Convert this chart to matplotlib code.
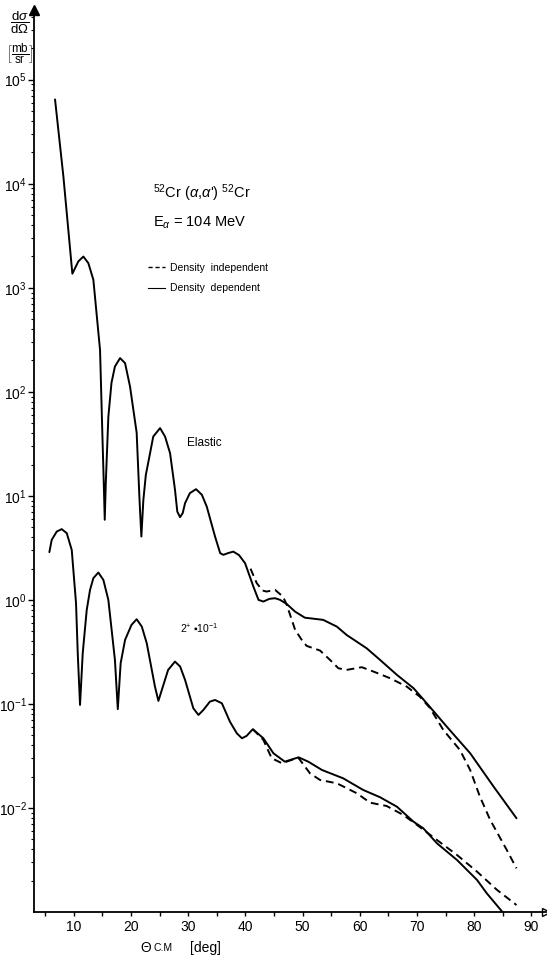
import numpy as np
import matplotlib
matplotlib.use("Agg")
import matplotlib.pyplot as plt
from matplotlib.lines import Line2D
from matplotlib.ticker import MultipleLocator, LogLocator, NullFormatter

plt.rcParams['font.family'] = ['Liberation Sans', 'DejaVu Sans']
plt.rcParams['mathtext.fontset'] = 'custom'
plt.rcParams['mathtext.rm'] = 'Liberation Sans'
plt.rcParams['mathtext.it'] = 'Liberation Sans:italic'

# angles in deg, cross sections as log10(mb/sr)
elastic_dep_x = [6.73, 8.19, 9.76, 10.8, 11.68, 12.55, 13.43, 14.6, 15.0, 15.25, 15.42, 15.6,
                 16.05, 16.6, 17.2, 18.1, 18.97, 19.84, 21.0, 21.5, 21.82, 22.17, 22.6, 23.34,
                 23.9, 25.09, 25.96, 26.84, 27.7, 28.1, 28.58, 29.05, 29.46, 30.3, 31.38, 32.4,
                 33.25, 34.7, 35.6, 36.15, 37.0, 37.9, 38.9, 39.95, 41.4, 42.3, 43.15, 44.2,
                 45.2, 46.07, 47.24, 48.7, 50.4, 53.6, 56.0, 57.7, 61.2, 63.55, 66.5, 69.4,
                 71.7, 75.2, 79.3, 83.4, 87.4]
elastic_dep_log = [4.81, 4.07, 3.135, 3.253, 3.30, 3.237, 3.077, 2.40, 1.60, 1.12, 0.77, 1.12,
                   1.76, 2.087, 2.243, 2.324, 2.276, 2.05, 1.606, 0.96, 0.609, 0.96, 1.2, 1.41,
                   1.57, 1.651, 1.57, 1.41, 1.058, 0.849, 0.795, 0.834, 0.93, 1.026, 1.064, 1.01,
                   0.897, 0.609, 0.449, 0.433, 0.45, 0.464, 0.43, 0.353, 0.128, 0.0, -0.016, 0.01,
                   0.016, 0.0, -0.04, -0.113, -0.171, -0.192, -0.257, -0.337, -0.465, -0.577, -0.721, -0.849,
                   -0.993, -1.218, -1.474, -1.795, -2.099]

elastic_ind_x = [40.9, 42.0, 43.0, 43.7, 45.2, 46.6, 47.24, 48.7, 49.86, 50.7, 53.06, 54.8,
                 56.26, 57.7, 60.35, 62.4, 65.3, 68.2, 70.5, 72.3, 74.6, 77.5, 79.3, 81.0,
                 82.8, 85.7, 87.4]
elastic_ind_log = [0.3, 0.16, 0.09, 0.08, 0.096, 0.03, -0.048, -0.288, -0.385, -0.442, -0.487, -0.577,
                   -0.657, -0.673, -0.647, -0.689, -0.753, -0.833, -0.93, -1.041, -1.25, -1.442, -1.635, -1.891,
                   -2.115, -2.404, -2.58]

inel_dep_x = [5.74, 6.15, 7.03, 7.9, 8.78, 9.65, 10.4, 10.7, 11.1, 11.57, 12.27, 12.85,
              13.43, 14.3, 15.18, 16.05, 17.2, 17.7, 18.2, 18.97, 20.1, 21.0, 21.9, 22.76,
              24.2, 24.8, 25.4, 26.5, 27.7, 28.6, 29.46, 30.9, 31.8, 32.66, 33.8, 34.7,
              35.9, 37.3, 38.5, 39.4, 40.2, 41.3, 43.15, 44.9, 46.9, 49.3, 51.0, 53.4,
              57.1, 60.6, 63.55, 66.5, 69.4, 71.1, 73.5, 77.0, 80.5, 82.2, 85.1]
inel_dep_log = [0.459, 0.577, 0.657, 0.68, 0.641, 0.48, -0.032, -0.513, -1.01, -0.513, -0.096, 0.096,
                0.209, 0.263, 0.192, 0.0, -0.577, -1.05, -0.609, -0.385, -0.24, -0.186, -0.257, -0.416,
                -0.834, -0.971, -0.865, -0.673, -0.593, -0.641, -0.769, -1.041, -1.106, -1.058, -0.978, -0.962,
                -0.994, -1.17, -1.282, -1.33, -1.308, -1.243, -1.33, -1.474, -1.555, -1.513, -1.555, -1.635,
                -1.715, -1.827, -1.897, -1.988, -2.132, -2.195, -2.34, -2.5, -2.692, -2.82, -3.01]

inel_ind_x = [41.3, 43.15, 44.6, 46.4, 48.1, 49.3, 51.3, 53.06, 56.0, 59.5, 61.8, 64.7,
              67.6, 70.0, 73.5, 77.0, 80.5, 84.0, 87.4]
inel_ind_log = [-1.243, -1.346, -1.522, -1.57, -1.538, -1.52, -1.667, -1.731, -1.763, -1.859, -1.949, -1.981,
                -2.067, -2.163, -2.308, -2.452, -2.612, -2.788, -2.933]

x_major = [10, 20, 30, 40, 50, 60, 70, 80, 90]

fig = plt.figure(figsize=(5.47, 9.58), dpi=100)
ax = fig.add_axes([0.0616, 0.048, 0.936, 0.9416])

solid = dict(color='black', lw=1.4, solid_joinstyle='round', solid_capstyle='round')
dashed = dict(color='black', lw=1.4, linestyle=(0, (4, 2.5)))

ax.plot(elastic_dep_x, np.power(10.0, elastic_dep_log), **solid)
ax.plot(elastic_ind_x, np.power(10.0, elastic_ind_log), **dashed)
ax.plot(inel_dep_x, np.power(10.0, inel_dep_log), **solid)
ax.plot(inel_ind_x, np.power(10.0, inel_ind_log), **dashed)

ax.set_yscale('log')
ax.set_xlim(3.0, 92.5)
ax.set_ylim(1e-3, 10 ** 5.67)

ax.spines['top'].set_visible(False)
ax.spines['right'].set_visible(False)
ax.spines['left'].set_linewidth(1.3)
ax.spines['bottom'].set_linewidth(1.3)

ax.set_xticks(x_major)
ax.xaxis.set_minor_locator(MultipleLocator(5))
ax.set_yticks([10.0 ** k for k in range(-2, 6)])
ax.yaxis.set_minor_locator(LogLocator(base=10, subs=np.arange(2, 10), numticks=20))
ax.yaxis.set_minor_formatter(NullFormatter())
ax.tick_params(axis='x', which='both', direction='out', length=3, width=1, labelsize=10, pad=3)
ax.tick_params(axis='y', which='major', direction='out', length=4, width=1, labelsize=10, pad=1)
ax.tick_params(axis='y', which='minor', direction='out', length=2.5, width=0.8)

# axis arrows
ax.plot(0, 1, marker='^', ms=7, color='black', transform=ax.transAxes, clip_on=False)
ax.plot(1, 0, marker='>', ms=6, mfc='white', mec='black', mew=1, transform=ax.transAxes, clip_on=False)

# annotations
fig.text(153 / 547, 1 - 197.5 / 958, r"$^{52}$Cr ($\alpha$,$\alpha$') $^{52}$Cr", fontsize=10.5, va='baseline')
fig.text(153 / 547, 1 - 226.7 / 958, r"E$_{\alpha}$ = 104 MeV", fontsize=10.5, va='baseline')
fig.text(186.7 / 547, 1 - 445.7 / 958, "Elastic", fontsize=8.5, va='baseline')
fig.text(180 / 547, 1 - 632.7 / 958, "2$^{+}$ \u25aa10$^{-1}$", fontsize=7.5, va='baseline')

handles = [Line2D([], [], color='black', lw=1.0, linestyle=(0, (3, 2))),
           Line2D([], [], color='black', lw=0.8)]
fig.legend(handles, ["Density  independent", "Density  dependent"], loc='upper left',
           bbox_to_anchor=(148 / 547, 1 - 263 / 958), frameon=False, fontsize=7.5,
           handlelength=1.6, handletextpad=0.5, borderpad=0, borderaxespad=0, labelspacing=1.0)

# axis labels
fig.text(20 / 547, 1 - 23 / 958, r"$\dfrac{\mathrm{d}\sigma}{\mathrm{d}\Omega}$", fontsize=9.5, ha='center', va='center')
fig.text(20 / 547, 1 - 54 / 958, r"$\left[\dfrac{\mathrm{mb}}{\mathrm{sr}}\right]$", fontsize=8.5, ha='center', va='center')
fig.text(140 / 547, 1 - 948 / 958, r"$\Theta$", fontsize=10, va='center')
fig.text(153 / 547, 1 - 948 / 958, "C.M", fontsize=7.5, va='center')
fig.text(190 / 547, 1 - 948 / 958, "[deg]", fontsize=10, va='center')

fig.savefig("out.png", dpi=100)
